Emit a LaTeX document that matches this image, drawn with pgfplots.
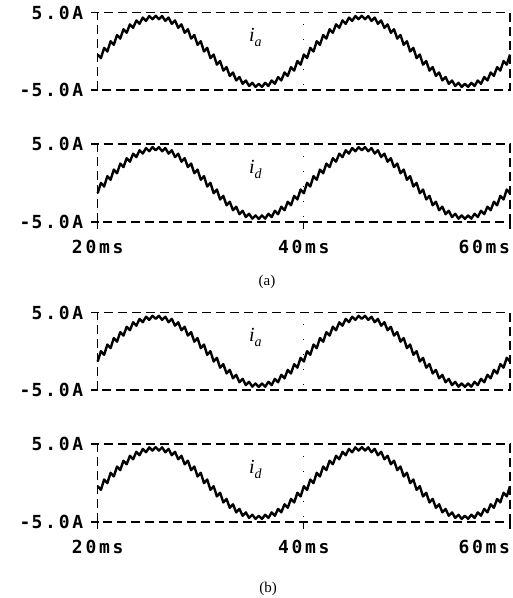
\documentclass[border=0pt]{standalone}
\usepackage{pgfplots}
\pgfplotsset{compat=1.18}
\usepackage{pgfplotstable}
\usepackage{fontspec}
\setmainfont{Liberation Serif}
\newfontfamily\pixfont{DejaVu Sans Mono}[LetterSpace=15]
\pgfplotstableread{
t ia id
20 -0.41 -1.31
20.3125 -0.88 0.02
20.625 0.45 -0.45
20.9375 -0.02 0.88
21.25 1.31 0.41
21.5625 0.84 1.72
21.875 2.11 1.25
22.1875 1.65 2.49
22.5 2.86 2.04
22.8125 2.40 3.18
23.125 3.49 2.73
23.4375 3.04 3.76
23.75 4.00 3.32
24.0625 3.56 4.20
24.375 4.37 3.77
24.6875 3.94 4.48
25 4.57 4.07
25.3125 4.16 4.60
25.625 4.60 4.20
25.9375 4.16 4.60
26.25 4.57 4.07
26.5625 3.94 4.48
26.875 4.37 3.77
27.1875 3.56 4.20
27.5 4.00 3.32
27.8125 3.04 3.76
28.125 3.49 2.73
28.4375 2.40 3.18
28.75 2.86 2.04
29.0625 1.65 2.49
29.375 2.11 1.25
29.6875 0.84 1.72
30 1.31 0.41
30.3125 -0.02 0.88
30.625 0.45 -0.45
30.9375 -0.88 0.02
31.25 -0.41 -1.31
31.5625 -1.72 -0.84
31.875 -1.25 -2.11
32.1875 -2.49 -1.65
32.5 -2.04 -2.86
32.8125 -3.18 -2.40
33.125 -2.73 -3.49
33.4375 -3.76 -3.04
33.75 -3.32 -4.00
34.0625 -4.20 -3.56
34.375 -3.77 -4.37
34.6875 -4.48 -3.94
35 -4.07 -4.57
35.3125 -4.60 -4.16
35.625 -4.20 -4.60
35.9375 -4.60 -4.16
36.25 -4.07 -4.57
36.5625 -4.48 -3.94
36.875 -3.77 -4.37
37.1875 -4.20 -3.56
37.5 -3.32 -4.00
37.8125 -3.76 -3.04
38.125 -2.73 -3.49
38.4375 -3.18 -2.40
38.75 -2.04 -2.86
39.0625 -2.49 -1.65
39.375 -1.25 -2.11
39.6875 -1.72 -0.84
40 -0.41 -1.31
40.3125 -0.88 0.02
40.625 0.45 -0.45
40.9375 -0.02 0.88
41.25 1.31 0.41
41.5625 0.84 1.72
41.875 2.11 1.25
42.1875 1.65 2.49
42.5 2.86 2.04
42.8125 2.40 3.18
43.125 3.49 2.73
43.4375 3.04 3.76
43.75 4.00 3.32
44.0625 3.56 4.20
44.375 4.37 3.77
44.6875 3.94 4.48
45 4.57 4.07
45.3125 4.16 4.60
45.625 4.60 4.20
45.9375 4.16 4.60
46.25 4.57 4.07
46.5625 3.94 4.48
46.875 4.37 3.77
47.1875 3.56 4.20
47.5 4.00 3.32
47.8125 3.04 3.76
48.125 3.49 2.73
48.4375 2.40 3.18
48.75 2.86 2.04
49.0625 1.65 2.49
49.375 2.11 1.25
49.6875 0.84 1.72
50 1.31 0.41
50.3125 -0.02 0.88
50.625 0.45 -0.45
50.9375 -0.88 0.02
51.25 -0.41 -1.31
51.5625 -1.72 -0.84
51.875 -1.25 -2.11
52.1875 -2.49 -1.65
52.5 -2.04 -2.86
52.8125 -3.18 -2.40
53.125 -2.73 -3.49
53.4375 -3.76 -3.04
53.75 -3.32 -4.00
54.0625 -4.20 -3.56
54.375 -3.77 -4.37
54.6875 -4.48 -3.94
55 -4.07 -4.57
55.3125 -4.60 -4.16
55.625 -4.20 -4.60
55.9375 -4.60 -4.16
56.25 -4.07 -4.57
56.5625 -4.48 -3.94
56.875 -3.77 -4.37
57.1875 -4.20 -3.56
57.5 -3.32 -4.00
57.8125 -3.76 -3.04
58.125 -2.73 -3.49
58.4375 -3.18 -2.40
58.75 -2.04 -2.86
59.0625 -2.49 -1.65
59.375 -1.25 -2.11
59.6875 -1.72 -0.84
60 -0.41 -1.31
}\wave
\pgfplotsset{
  panel/.style={
    scale only axis, width=412.3pt, anchor=north west,
    xmin=20, xmax=60, ymin=-5, ymax=5,
    axis line style={black, line width=1.4pt, dash pattern=on 9pt off 5pt},
    ytick={-5,5}, yticklabels={\makebox[13.5pt][c]{-}5.0A,5.0A},
    ytick pos=left, xtick pos=bottom,
    tick align=outside, major tick length=7pt,
    tick style={black, solid, line width=1.3pt},
    ticklabel style={font=\pixfont\bfseries\fontsize{18}{18}\selectfont},
    yticklabel style={xshift=-4pt},
    xticklabel style={yshift=-8pt},
    clip=false,
  },
  toppanel/.style={panel, height=77.3pt, xtick=\empty},
  botpanel/.style={panel, height=78pt, xtick={20,40,60},
    xticklabels={20ms,40ms,\makebox[0pt][r]{60ms}}},
  trace/.style={black, line width=2.4pt, line join=round, no marks},
}
\newcommand{\gridforty}{\draw[black, line width=1pt, dash pattern=on 1pt off 14pt] (axis cs:40,-4.3) -- (axis cs:40,5);}
\newcommand{\curlab}[1]{\fontsize{20}{20}\selectfont\itshape i\raisebox{-5pt}{\fontsize{14}{14}\selectfont #1}}
\begin{document}
\begin{tikzpicture}
\useasboundingbox (0,0) rectangle (513pt,598pt);
% (a) i_a
\begin{axis}[toppanel, at={(97.7pt,585.3pt)}]
\addplot[trace] table[x=t, y=ia] {\wave};
\gridforty
\node at (axis cs:35.3,1.8) {\curlab{a}};
\end{axis}
% (a) i_d
\begin{axis}[botpanel, at={(97.7pt,454pt)}]
\addplot[trace] table[x=t, y=id] {\wave};
\gridforty
\node at (axis cs:35.3,1.8) {\curlab{d}};
\end{axis}
\node[font=\fontsize{15}{15}\selectfont] at (267pt,316.3pt) {(a)};
% (b) i_a
\begin{axis}[toppanel, at={(97.7pt,285.3pt)}]
\addplot[trace] table[x=t, y=id] {\wave};
\gridforty
\node at (axis cs:35.3,1.8) {\curlab{a}};
\end{axis}
% (b) i_d
\begin{axis}[botpanel, at={(97.7pt,154pt)}]
\addplot[trace] table[x=t, y=ia] {\wave};
\gridforty
\node at (axis cs:35.3,1.8) {\curlab{d}};
\end{axis}
\node[font=\fontsize{15}{15}\selectfont] at (268pt,9pt) {(b)};
\end{tikzpicture}
\end{document}
